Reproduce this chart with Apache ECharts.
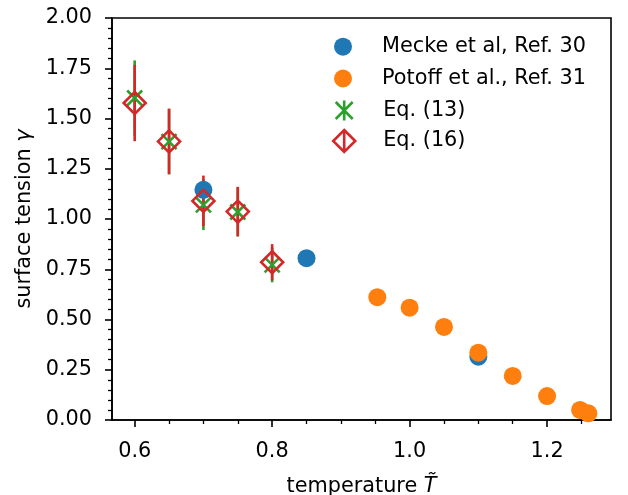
<!DOCTYPE html>
<html>
<head>
<meta charset="utf-8">
<script src="https://cdn.jsdelivr.net/npm/echarts@6/dist/echarts.min.js"></script>
<style>
  html, body { margin: 0; padding: 0; background: #fff; }
  #chart { width: 628px; height: 495px; }
</style>
</head>
<body>
<div id="chart"></div>
<script>
// data
const meckeT = [0.7, 0.85, 1.1]
const meckeGamma = [1.145, 0.805, 0.315]
const potoffT = [0.953, 1.0, 1.05, 1.1, 1.15, 1.2, 1.248, 1.26]
const potoffGamma = [0.611, 0.559, 0.463, 0.335, 0.219, 0.119, 0.05, 0.033]
const eqT = [0.6, 0.65, 0.7, 0.75, 0.8]
const eq13Gamma = [1.602, 1.385, 1.07, 1.035, 0.772]
const eq13Err = [0.187, 0.163, 0.125, 0.122, 0.087]
const eq16Gamma = [1.577, 1.386, 1.09, 1.037, 0.785]
const eq16Err = [0.19, 0.163, 0.126, 0.123, 0.09]

const xMajorTicks = [0.6, 0.8, 1.0, 1.2]
const xMinorTicks = [0.65, 0.7, 0.75, 0.85, 0.9, 0.95, 1.05, 1.1, 1.15, 1.25]
const xRange = [0.567, 1.293]
const yRange = [0, 2]
const yStep = 0.25

const names = ['Mecke et al, Ref. 30', 'Potoff et al., Ref. 31', 'Eq. (13)', 'Eq. (16)']

const BLUE = '#1f77b4'
const ORANGE = '#ff7f0e'
const GREEN = '#2ca02c'
const RED = '#d62728'
const FONT = 'DejaVu Sans'
const FS = 20.8

const zip = (a, b, c) => a.map((v, i) => c ? [v, b[i], c[i]] : [v, b[i]])

function errorBar(params, api) {
  const x = api.value(0)
  const y = api.value(1)
  const e = api.value(2)
  const lo = api.coord([x, y - e])
  const hi = api.coord([x, y + e])
  return {
    type: 'line',
    shape: { x1: lo[0], y1: lo[1], x2: hi[0], y2: hi[1] },
    style: { stroke: api.visual('color'), lineWidth: 2.6 }
  }
}

const X_MARK = 'path://M0,0L10,10M10,0L0,10'
const DIAMOND = 'path://M5,0L10,5L5,10L0,5Z'
const X_ICON = 'path://M0,1.5L17,18.5M17,1.5L0,18.5M8.5,0L8.5,20'
const D_ICON = 'path://M11,0L22,11L11,22L0,11ZM11,0L11,22'

// legend box starts at the visible icon edge, icon centre wanted at x=343
const legendBase = {
  orient: 'vertical',
  padding: 0,
  itemWidth: 68,
  selectedMode: false,
  textStyle: { fontFamily: FONT, fontSize: FS, color: '#000' }
}

const chart = echarts.init(document.getElementById('chart'))
chart.setOption({
  animation: false,
  backgroundColor: '#fff',
  grid: {
    left: 112, right: 17, top: 18, bottom: 75,
    outerBoundsMode: 'none',
    containLabel: false,
    show: true, borderColor: '#000', borderWidth: 1.6
  },
  legend: [
    Object.assign({}, legendBase, { left: 334, top: 36.2, itemHeight: 18, data: [{ name: names[0], icon: 'circle' }] }),
    Object.assign({}, legendBase, { left: 334, top: 68, itemHeight: 18, data: [{ name: names[1], icon: 'circle' }] }),
    Object.assign({}, legendBase, {
      left: 333.2, top: 98, itemHeight: 20,
      data: [{ name: names[2], icon: X_ICON, itemStyle: { color: 'none', borderColor: GREEN, borderWidth: 2.6 } }]
    }),
    Object.assign({}, legendBase, {
      left: 330.7, top: 127.5, itemHeight: 22,
      data: [{ name: names[3], icon: D_ICON, itemStyle: { color: 'none', borderColor: RED, borderWidth: 2.6 } }]
    })
  ],
  xAxis: [{
    type: 'value',
    min: xRange[0],
    max: xRange[1],
    name: 'temperature {t|T\u0303}',
    nameLocation: 'middle',
    nameGap: 56,
    nameTextStyle: {
      fontFamily: FONT, fontSize: FS, color: '#000',
      rich: { t: { fontFamily: FONT, fontSize: FS, fontStyle: 'italic', color: '#000' } }
    },
    splitLine: { show: false },
    axisLine: { lineStyle: { color: '#000', width: 1.6 } },
    axisTick: { customValues: xMajorTicks, length: 7, lineStyle: { color: '#000', width: 1.6 } },
    axisLabel: {
      customValues: xMajorTicks,
      margin: 21,
      fontFamily: FONT, fontSize: FS, color: '#000',
      formatter: v => v.toFixed(1)
    }
  }, {
    // minor ticks only
    type: 'value',
    position: 'bottom',
    min: xRange[0],
    max: xRange[1],
    splitLine: { show: false },
    axisLine: { show: false },
    axisLabel: { show: false },
    axisTick: { customValues: xMinorTicks, length: 4, lineStyle: { color: '#000', width: 1.3 } }
  }],
  yAxis: {
    type: 'value',
    min: yRange[0],
    max: yRange[1],
    interval: yStep,
    name: 'surface tension {g|\u03b3}',
    nameLocation: 'middle',
    nameGap: 73,
    nameTextStyle: {
      fontFamily: FONT, fontSize: FS, color: '#000',
      rich: { g: { fontFamily: FONT, fontSize: FS, fontStyle: 'italic', color: '#000' } }
    },
    splitLine: { show: false },
    axisLine: { show: true, lineStyle: { color: '#000', width: 1.6 } },
    axisTick: { show: true, length: 7, lineStyle: { color: '#000', width: 1.6 } },
    minorTick: { show: true, splitNumber: 5, length: 4, lineStyle: { color: '#000', width: 1.3 } },
    axisLabel: {
      margin: 20,
      fontFamily: FONT, fontSize: FS, color: '#000',
      formatter: v => v.toFixed(2)
    }
  },
  series: [
    {
      name: names[0],
      type: 'scatter',
      symbol: 'circle',
      symbolSize: 18,
      itemStyle: { color: BLUE, opacity: 1 },
      data: zip(meckeT, meckeGamma)
    },
    {
      name: names[1],
      type: 'scatter',
      symbol: 'circle',
      symbolSize: 18,
      itemStyle: { color: ORANGE, opacity: 1 },
      data: zip(potoffT, potoffGamma)
    },
    {
      name: 'eq13-err',
      type: 'custom',
      renderItem: errorBar,
      itemStyle: { color: GREEN },
      data: zip(eqT, eq13Gamma, eq13Err)
    },
    {
      name: names[2],
      type: 'scatter',
      symbol: X_MARK,
      symbolSize: 15,
      itemStyle: { color: 'none', borderColor: GREEN, borderWidth: 2.6, opacity: 1 },
      data: zip(eqT, eq13Gamma)
    },
    {
      name: 'eq16-err',
      type: 'custom',
      renderItem: errorBar,
      itemStyle: { color: RED },
      data: zip(eqT, eq16Gamma, eq16Err)
    },
    {
      name: names[3],
      type: 'scatter',
      symbol: DIAMOND,
      symbolSize: 22,
      itemStyle: { color: 'none', borderColor: RED, borderWidth: 2.6, opacity: 1 },
      data: zip(eqT, eq16Gamma)
    }
  ]
})
</script>
</body>
</html>
